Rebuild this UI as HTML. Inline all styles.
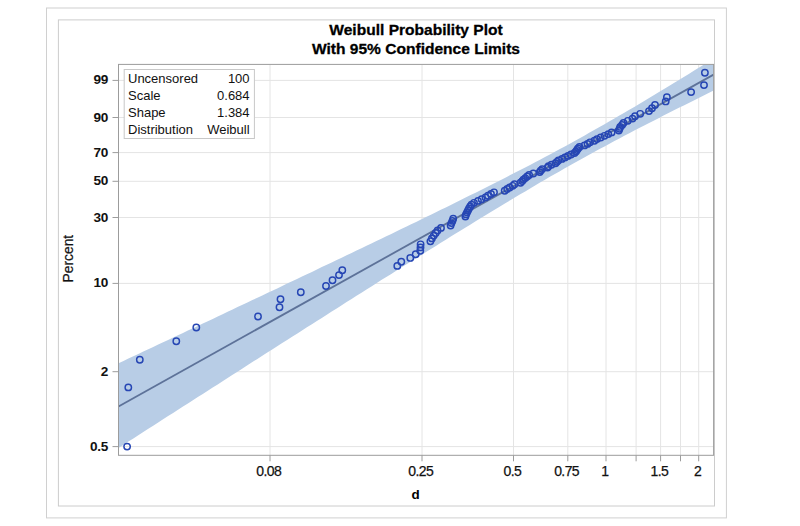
<!DOCTYPE html><html><head><meta charset="utf-8"><style>html,body{margin:0;padding:0;background:#fff;overflow:hidden;width:800px;height:526px;}svg{display:block}text{font-family:"Liberation Sans",sans-serif;}</style></head><body>
<svg width="800" height="526" viewBox="0 0 800 526">
<rect x="0" y="0" width="800" height="526" fill="#fff"/>
<rect x="46.5" y="8.0" width="679.9" height="509.9" fill="none" stroke="#d0d0d0" stroke-width="1"/>
<rect x="58.4" y="19.9" width="656.1" height="486.1" fill="none" stroke="#cccccc" stroke-width="1"/>
<text x="416" y="35.2" text-anchor="middle" font-weight="bold" font-size="15.55" fill="#000" stroke="#000" stroke-width="0.3">Weibull Probability Plot</text>
<text x="416" y="54.4" text-anchor="middle" font-weight="bold" font-size="15.55" fill="#000" stroke="#000" stroke-width="0.3">With 95% Confidence Limits</text>
<defs><clipPath id="pc"><rect x="118.5" y="64.4" width="595.1" height="390.9"/></clipPath></defs>
<path d="M118.5 446.6H713.6 M118.5 371.7H713.6 M118.5 283.4H713.6 M118.5 217.5H713.6 M118.5 181.3H713.6 M118.5 152.6H713.6 M118.5 117.5H713.6 M118.5 80.4H713.6 M270.0 64.4V455.3 M422.0 64.4V455.3 M513.5 64.4V455.3 M567.8 64.4V455.3 M606.0 64.4V455.3 M636.1 64.4V455.3 M660.6 64.4V455.3 M680.5 64.4V455.3 M698.7 64.4V455.3" stroke="#e4e4e4" stroke-width="1" fill="none"/>
<g clip-path="url(#pc)">
<polygon points="118.5,363.3 123.5,360.9 128.4,358.6 133.4,356.3 138.3,353.9 143.3,351.6 148.3,349.3 153.2,346.9 158.2,344.6 163.1,342.3 168.1,339.9 173.1,337.6 178.0,335.2 183.0,332.9 187.9,330.6 192.9,328.2 197.8,325.9 202.8,323.5 207.8,321.2 212.7,318.9 217.7,316.5 222.6,314.2 227.6,311.8 232.6,309.5 237.5,307.1 242.5,304.8 247.4,302.4 252.4,300.1 257.4,297.8 262.3,295.4 267.3,293.1 272.2,290.7 277.2,288.4 282.2,286.0 287.1,283.6 292.1,281.3 297.0,278.9 302.0,276.6 306.9,274.2 311.9,271.9 316.9,269.5 321.8,267.1 326.8,264.8 331.7,262.4 336.7,260.1 341.7,257.7 346.6,255.3 351.6,252.9 356.5,250.6 361.5,248.2 366.5,245.8 371.4,243.4 376.4,241.1 381.3,238.7 386.3,236.3 391.3,233.9 396.2,231.5 401.2,229.1 406.1,226.7 411.1,224.3 416.1,221.9 421.0,219.5 426.0,217.1 430.9,214.7 435.9,212.3 440.8,209.8 445.8,207.4 450.8,205.0 455.7,202.5 460.7,200.1 465.6,197.6 470.6,195.1 475.6,192.7 480.5,190.2 485.5,187.7 490.4,185.2 495.4,182.7 500.4,180.2 505.3,177.7 510.3,175.1 515.2,172.6 520.2,170.0 525.2,167.5 530.1,164.9 535.1,162.3 540.0,159.7 545.0,157.0 549.9,154.4 554.9,151.7 559.9,149.1 564.8,146.4 569.8,143.7 574.7,140.9 579.7,138.2 584.7,135.4 589.6,132.6 594.6,129.8 599.5,127.0 604.5,124.2 609.5,121.3 614.4,118.5 619.4,115.6 624.3,112.7 629.3,109.8 634.3,106.9 639.2,103.9 644.2,101.0 649.1,98.0 654.1,95.0 659.0,92.0 664.0,89.0 669.0,86.0 673.9,83.0 678.9,80.0 683.8,76.9 688.8,73.9 693.8,70.8 698.7,67.8 703.7,64.7 708.6,61.7 713.6,58.6 713.6,90.6 708.6,93.1 703.7,95.5 698.7,98.0 693.8,100.4 688.8,102.9 683.8,105.4 678.9,107.8 673.9,110.3 669.0,112.8 664.0,115.3 659.0,117.9 654.1,120.4 649.1,122.9 644.2,125.5 639.2,128.0 634.3,130.6 629.3,133.2 624.3,135.8 619.4,138.4 614.4,141.1 609.5,143.7 604.5,146.4 599.5,149.1 594.6,151.8 589.6,154.5 584.7,157.2 579.7,160.0 574.7,162.7 569.8,165.5 564.8,168.3 559.9,171.2 554.9,174.0 549.9,176.8 545.0,179.7 540.0,182.6 535.1,185.5 530.1,188.4 525.2,191.4 520.2,194.3 515.2,197.3 510.3,200.2 505.3,203.2 500.4,206.2 495.4,209.2 490.4,212.2 485.5,215.3 480.5,218.3 475.6,221.3 470.6,224.4 465.6,227.4 460.7,230.5 455.7,233.6 450.8,236.6 445.8,239.7 440.8,242.8 435.9,245.9 430.9,249.0 426.0,252.1 421.0,255.2 416.1,258.3 411.1,261.4 406.1,264.5 401.2,267.6 396.2,270.8 391.3,273.9 386.3,277.0 381.3,280.1 376.4,283.3 371.4,286.4 366.5,289.5 361.5,292.7 356.5,295.8 351.6,299.0 346.6,302.1 341.7,305.3 336.7,308.4 331.7,311.6 326.8,314.7 321.8,317.9 316.9,321.0 311.9,324.2 306.9,327.3 302.0,330.5 297.0,333.7 292.1,336.8 287.1,340.0 282.2,343.1 277.2,346.3 272.2,349.5 267.3,352.6 262.3,355.8 257.4,359.0 252.4,362.1 247.4,365.3 242.5,368.5 237.5,371.7 232.6,374.8 227.6,378.0 222.6,381.2 217.7,384.4 212.7,387.5 207.8,390.7 202.8,393.9 197.8,397.1 192.9,400.2 187.9,403.4 183.0,406.6 178.0,409.8 173.1,412.9 168.1,416.1 163.1,419.3 158.2,422.5 153.2,425.7 148.3,428.8 143.3,432.0 138.3,435.2 133.4,438.4 128.4,441.6 123.5,444.7 118.5,447.9" fill="#b8cde6"/>
<line x1="118.5" y1="406.45000000000005" x2="713.6" y2="74.6" stroke="#5d7299" stroke-width="1.8"/>
<circle cx="127.1" cy="446.6" r="3.2" fill="none" stroke="#2646b4" stroke-width="1.45"/>
<circle cx="128.3" cy="387.4" r="3.2" fill="none" stroke="#2646b4" stroke-width="1.45"/>
<circle cx="139.8" cy="359.7" r="3.2" fill="none" stroke="#2646b4" stroke-width="1.45"/>
<circle cx="176.3" cy="341.3" r="3.2" fill="none" stroke="#2646b4" stroke-width="1.45"/>
<circle cx="196.3" cy="327.5" r="3.2" fill="none" stroke="#2646b4" stroke-width="1.45"/>
<circle cx="258.0" cy="316.5" r="3.2" fill="none" stroke="#2646b4" stroke-width="1.45"/>
<circle cx="279.5" cy="307.2" r="3.2" fill="none" stroke="#2646b4" stroke-width="1.45"/>
<circle cx="280.5" cy="299.3" r="3.2" fill="none" stroke="#2646b4" stroke-width="1.45"/>
<circle cx="300.8" cy="292.2" r="3.2" fill="none" stroke="#2646b4" stroke-width="1.45"/>
<circle cx="326.0" cy="286.0" r="3.2" fill="none" stroke="#2646b4" stroke-width="1.45"/>
<circle cx="332.5" cy="280.3" r="3.2" fill="none" stroke="#2646b4" stroke-width="1.45"/>
<circle cx="339.0" cy="275.1" r="3.2" fill="none" stroke="#2646b4" stroke-width="1.45"/>
<circle cx="342.3" cy="270.3" r="3.2" fill="none" stroke="#2646b4" stroke-width="1.45"/>
<circle cx="397.3" cy="265.9" r="3.2" fill="none" stroke="#2646b4" stroke-width="1.45"/>
<circle cx="401.3" cy="261.8" r="3.2" fill="none" stroke="#2646b4" stroke-width="1.45"/>
<circle cx="410.3" cy="257.9" r="3.2" fill="none" stroke="#2646b4" stroke-width="1.45"/>
<circle cx="415.7" cy="254.2" r="3.2" fill="none" stroke="#2646b4" stroke-width="1.45"/>
<circle cx="420.3" cy="250.7" r="3.2" fill="none" stroke="#2646b4" stroke-width="1.45"/>
<circle cx="420.5" cy="247.4" r="3.2" fill="none" stroke="#2646b4" stroke-width="1.45"/>
<circle cx="420.6" cy="244.3" r="3.2" fill="none" stroke="#2646b4" stroke-width="1.45"/>
<circle cx="430.4" cy="241.3" r="3.2" fill="none" stroke="#2646b4" stroke-width="1.45"/>
<circle cx="431.9" cy="238.4" r="3.2" fill="none" stroke="#2646b4" stroke-width="1.45"/>
<circle cx="433.8" cy="235.6" r="3.2" fill="none" stroke="#2646b4" stroke-width="1.45"/>
<circle cx="435.7" cy="233.0" r="3.2" fill="none" stroke="#2646b4" stroke-width="1.45"/>
<circle cx="437.6" cy="230.4" r="3.2" fill="none" stroke="#2646b4" stroke-width="1.45"/>
<circle cx="441.0" cy="227.9" r="3.2" fill="none" stroke="#2646b4" stroke-width="1.45"/>
<circle cx="450.6" cy="225.5" r="3.2" fill="none" stroke="#2646b4" stroke-width="1.45"/>
<circle cx="451.5" cy="223.1" r="3.2" fill="none" stroke="#2646b4" stroke-width="1.45"/>
<circle cx="452.4" cy="220.9" r="3.2" fill="none" stroke="#2646b4" stroke-width="1.45"/>
<circle cx="453.2" cy="218.7" r="3.2" fill="none" stroke="#2646b4" stroke-width="1.45"/>
<circle cx="465.4" cy="216.5" r="3.2" fill="none" stroke="#2646b4" stroke-width="1.45"/>
<circle cx="466.0" cy="214.4" r="3.2" fill="none" stroke="#2646b4" stroke-width="1.45"/>
<circle cx="467.0" cy="212.4" r="3.2" fill="none" stroke="#2646b4" stroke-width="1.45"/>
<circle cx="468.0" cy="210.4" r="3.2" fill="none" stroke="#2646b4" stroke-width="1.45"/>
<circle cx="469.0" cy="208.4" r="3.2" fill="none" stroke="#2646b4" stroke-width="1.45"/>
<circle cx="470.2" cy="206.5" r="3.2" fill="none" stroke="#2646b4" stroke-width="1.45"/>
<circle cx="471.5" cy="204.6" r="3.2" fill="none" stroke="#2646b4" stroke-width="1.45"/>
<circle cx="474.0" cy="202.8" r="3.2" fill="none" stroke="#2646b4" stroke-width="1.45"/>
<circle cx="478.0" cy="200.9" r="3.2" fill="none" stroke="#2646b4" stroke-width="1.45"/>
<circle cx="481.6" cy="199.2" r="3.2" fill="none" stroke="#2646b4" stroke-width="1.45"/>
<circle cx="485.5" cy="197.4" r="3.2" fill="none" stroke="#2646b4" stroke-width="1.45"/>
<circle cx="488.0" cy="195.7" r="3.2" fill="none" stroke="#2646b4" stroke-width="1.45"/>
<circle cx="491.0" cy="194.0" r="3.2" fill="none" stroke="#2646b4" stroke-width="1.45"/>
<circle cx="494.0" cy="192.3" r="3.2" fill="none" stroke="#2646b4" stroke-width="1.45"/>
<circle cx="504.7" cy="190.7" r="3.2" fill="none" stroke="#2646b4" stroke-width="1.45"/>
<circle cx="507.2" cy="189.0" r="3.2" fill="none" stroke="#2646b4" stroke-width="1.45"/>
<circle cx="509.7" cy="187.4" r="3.2" fill="none" stroke="#2646b4" stroke-width="1.45"/>
<circle cx="512.7" cy="185.8" r="3.2" fill="none" stroke="#2646b4" stroke-width="1.45"/>
<circle cx="514.5" cy="184.2" r="3.2" fill="none" stroke="#2646b4" stroke-width="1.45"/>
<circle cx="520.5" cy="182.7" r="3.2" fill="none" stroke="#2646b4" stroke-width="1.45"/>
<circle cx="522.2" cy="181.1" r="3.2" fill="none" stroke="#2646b4" stroke-width="1.45"/>
<circle cx="523.4" cy="179.6" r="3.2" fill="none" stroke="#2646b4" stroke-width="1.45"/>
<circle cx="525.3" cy="178.1" r="3.2" fill="none" stroke="#2646b4" stroke-width="1.45"/>
<circle cx="527.2" cy="176.5" r="3.2" fill="none" stroke="#2646b4" stroke-width="1.45"/>
<circle cx="529.1" cy="175.0" r="3.2" fill="none" stroke="#2646b4" stroke-width="1.45"/>
<circle cx="533.3" cy="173.5" r="3.2" fill="none" stroke="#2646b4" stroke-width="1.45"/>
<circle cx="539.7" cy="172.1" r="3.2" fill="none" stroke="#2646b4" stroke-width="1.45"/>
<circle cx="540.7" cy="170.6" r="3.2" fill="none" stroke="#2646b4" stroke-width="1.45"/>
<circle cx="542.2" cy="169.1" r="3.2" fill="none" stroke="#2646b4" stroke-width="1.45"/>
<circle cx="547.5" cy="167.6" r="3.2" fill="none" stroke="#2646b4" stroke-width="1.45"/>
<circle cx="548.5" cy="166.2" r="3.2" fill="none" stroke="#2646b4" stroke-width="1.45"/>
<circle cx="551.5" cy="164.7" r="3.2" fill="none" stroke="#2646b4" stroke-width="1.45"/>
<circle cx="555.5" cy="163.2" r="3.2" fill="none" stroke="#2646b4" stroke-width="1.45"/>
<circle cx="557.0" cy="161.8" r="3.2" fill="none" stroke="#2646b4" stroke-width="1.45"/>
<circle cx="558.5" cy="160.3" r="3.2" fill="none" stroke="#2646b4" stroke-width="1.45"/>
<circle cx="562.0" cy="158.9" r="3.2" fill="none" stroke="#2646b4" stroke-width="1.45"/>
<circle cx="565.0" cy="157.4" r="3.2" fill="none" stroke="#2646b4" stroke-width="1.45"/>
<circle cx="568.0" cy="155.9" r="3.2" fill="none" stroke="#2646b4" stroke-width="1.45"/>
<circle cx="571.0" cy="154.5" r="3.2" fill="none" stroke="#2646b4" stroke-width="1.45"/>
<circle cx="574.5" cy="153.0" r="3.2" fill="none" stroke="#2646b4" stroke-width="1.45"/>
<circle cx="576.0" cy="151.5" r="3.2" fill="none" stroke="#2646b4" stroke-width="1.45"/>
<circle cx="577.0" cy="150.0" r="3.2" fill="none" stroke="#2646b4" stroke-width="1.45"/>
<circle cx="578.0" cy="148.5" r="3.2" fill="none" stroke="#2646b4" stroke-width="1.45"/>
<circle cx="579.5" cy="147.0" r="3.2" fill="none" stroke="#2646b4" stroke-width="1.45"/>
<circle cx="584.5" cy="145.4" r="3.2" fill="none" stroke="#2646b4" stroke-width="1.45"/>
<circle cx="587.5" cy="143.9" r="3.2" fill="none" stroke="#2646b4" stroke-width="1.45"/>
<circle cx="590.0" cy="142.3" r="3.2" fill="none" stroke="#2646b4" stroke-width="1.45"/>
<circle cx="594.4" cy="140.7" r="3.2" fill="none" stroke="#2646b4" stroke-width="1.45"/>
<circle cx="597.0" cy="139.1" r="3.2" fill="none" stroke="#2646b4" stroke-width="1.45"/>
<circle cx="600.7" cy="137.5" r="3.2" fill="none" stroke="#2646b4" stroke-width="1.45"/>
<circle cx="604.5" cy="135.8" r="3.2" fill="none" stroke="#2646b4" stroke-width="1.45"/>
<circle cx="608.3" cy="134.1" r="3.2" fill="none" stroke="#2646b4" stroke-width="1.45"/>
<circle cx="611.6" cy="132.4" r="3.2" fill="none" stroke="#2646b4" stroke-width="1.45"/>
<circle cx="618.8" cy="130.6" r="3.2" fill="none" stroke="#2646b4" stroke-width="1.45"/>
<circle cx="619.5" cy="128.8" r="3.2" fill="none" stroke="#2646b4" stroke-width="1.45"/>
<circle cx="620.2" cy="126.9" r="3.2" fill="none" stroke="#2646b4" stroke-width="1.45"/>
<circle cx="622.1" cy="124.9" r="3.2" fill="none" stroke="#2646b4" stroke-width="1.45"/>
<circle cx="623.5" cy="122.9" r="3.2" fill="none" stroke="#2646b4" stroke-width="1.45"/>
<circle cx="627.8" cy="120.8" r="3.2" fill="none" stroke="#2646b4" stroke-width="1.45"/>
<circle cx="632.5" cy="118.6" r="3.2" fill="none" stroke="#2646b4" stroke-width="1.45"/>
<circle cx="635.0" cy="116.2" r="3.2" fill="none" stroke="#2646b4" stroke-width="1.45"/>
<circle cx="640.2" cy="113.8" r="3.2" fill="none" stroke="#2646b4" stroke-width="1.45"/>
<circle cx="649.0" cy="111.1" r="3.2" fill="none" stroke="#2646b4" stroke-width="1.45"/>
<circle cx="652.0" cy="108.2" r="3.2" fill="none" stroke="#2646b4" stroke-width="1.45"/>
<circle cx="655.0" cy="105.0" r="3.2" fill="none" stroke="#2646b4" stroke-width="1.45"/>
<circle cx="665.7" cy="101.4" r="3.2" fill="none" stroke="#2646b4" stroke-width="1.45"/>
<circle cx="666.9" cy="97.2" r="3.2" fill="none" stroke="#2646b4" stroke-width="1.45"/>
<circle cx="691.1" cy="92.1" r="3.2" fill="none" stroke="#2646b4" stroke-width="1.45"/>
<circle cx="704.0" cy="85.1" r="3.2" fill="none" stroke="#2646b4" stroke-width="1.45"/>
<circle cx="704.9" cy="72.7" r="3.2" fill="none" stroke="#2646b4" stroke-width="1.45"/>
</g>
<rect x="118.5" y="64.4" width="595.1" height="390.9" fill="none" stroke="#9c9c9c" stroke-width="1"/>
<path d="M112.5 446.6H118.5 M112.5 371.7H118.5 M112.5 283.4H118.5 M112.5 217.5H118.5 M112.5 181.3H118.5 M112.5 152.6H118.5 M112.5 117.5H118.5 M112.5 80.4H118.5 M270.0 455.3V461.3 M422.0 455.3V461.3 M513.5 455.3V461.3 M567.8 455.3V461.3 M606.0 455.3V461.3 M636.1 455.3V461.3 M660.6 455.3V461.3 M680.5 455.3V461.3 M698.7 455.3V461.3" stroke="#9c9c9c" stroke-width="1" fill="none"/>
<text x="107.8" y="450.6" text-anchor="end" font-weight="bold" font-size="13.6" letter-spacing="-0.4" fill="#111">0.5</text>
<text x="107.8" y="375.7" text-anchor="end" font-weight="bold" font-size="13.6" letter-spacing="-0.4" fill="#111">2</text>
<text x="107.8" y="287.4" text-anchor="end" font-weight="bold" font-size="13.6" letter-spacing="-0.4" fill="#111">10</text>
<text x="107.8" y="221.5" text-anchor="end" font-weight="bold" font-size="13.6" letter-spacing="-0.4" fill="#111">30</text>
<text x="107.8" y="185.3" text-anchor="end" font-weight="bold" font-size="13.6" letter-spacing="-0.4" fill="#111">50</text>
<text x="107.8" y="156.6" text-anchor="end" font-weight="bold" font-size="13.6" letter-spacing="-0.4" fill="#111">70</text>
<text x="107.8" y="121.5" text-anchor="end" font-weight="bold" font-size="13.6" letter-spacing="-0.4" fill="#111">90</text>
<text x="107.8" y="84.4" text-anchor="end" font-weight="bold" font-size="13.6" letter-spacing="-0.4" fill="#111">99</text>
<text x="268.8" y="475.8" text-anchor="middle" font-size="14" letter-spacing="-0.6" fill="#111" stroke="#111" stroke-width="0.25">0.08</text>
<text x="420.8" y="475.8" text-anchor="middle" font-size="14" letter-spacing="-0.6" fill="#111" stroke="#111" stroke-width="0.25">0.25</text>
<text x="512.3" y="475.8" text-anchor="middle" font-size="14" letter-spacing="-0.6" fill="#111" stroke="#111" stroke-width="0.25">0.5</text>
<text x="566.6" y="475.8" text-anchor="middle" font-size="14" letter-spacing="-0.6" fill="#111" stroke="#111" stroke-width="0.25">0.75</text>
<text x="604.8" y="475.8" text-anchor="middle" font-size="14" letter-spacing="-0.6" fill="#111" stroke="#111" stroke-width="0.25">1</text>
<text x="659.4" y="475.8" text-anchor="middle" font-size="14" letter-spacing="-0.6" fill="#111" stroke="#111" stroke-width="0.25">1.5</text>
<text x="697.5" y="475.8" text-anchor="middle" font-size="14" letter-spacing="-0.6" fill="#111" stroke="#111" stroke-width="0.25">2</text>
<text x="415.5" y="498.8" text-anchor="middle" font-weight="bold" font-size="13.4" fill="#000">d</text>
<text transform="translate(72.6,258.6) rotate(-90)" x="0" y="0" text-anchor="middle" font-size="13.8" fill="#111" stroke="#111" stroke-width="0.2">Percent</text>
<rect x="124.2" y="69.5" width="130.2" height="69" fill="#fff" stroke="#c8c8c8" stroke-width="1"/>
<text x="128" y="82.6" font-size="13" fill="#111">Uncensored</text>
<text x="249.6" y="82.6" text-anchor="end" font-size="13" fill="#111">100</text>
<text x="128" y="99.6" font-size="13" fill="#111">Scale</text>
<text x="249.6" y="99.6" text-anchor="end" font-size="13" fill="#111">0.684</text>
<text x="128" y="116.6" font-size="13" fill="#111">Shape</text>
<text x="249.6" y="116.6" text-anchor="end" font-size="13" fill="#111">1.384</text>
<text x="128" y="133.6" font-size="13" fill="#111">Distribution</text>
<text x="249.6" y="133.6" text-anchor="end" font-size="13" fill="#111">Weibull</text>
</svg></body></html>
